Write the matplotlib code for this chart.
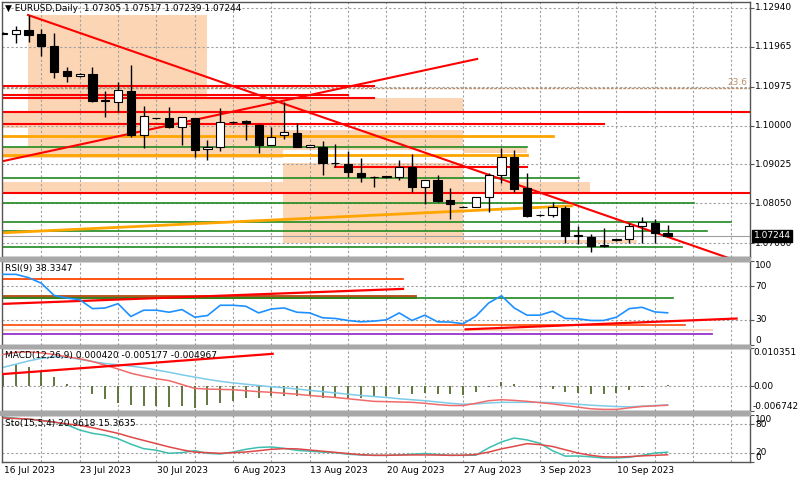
import matplotlib
matplotlib.use("Agg")
import matplotlib.pyplot as plt
from matplotlib.patches import Rectangle
from matplotlib.transforms import blended_transform_factory

plt.rcParams['font.family'] = ['DejaVu Sans']
FS = 6.5

# EURUSD daily, 16 Jul - 14 Sep 2023 (broker shows Sunday bars)
opens = [1.1230, 1.1229, 1.1239, 1.1229, 1.1199, 1.1136, 1.1123, 1.1129, 1.1062, 1.1060,
         1.1087, 1.0977, 1.1018, 1.1018, 1.0997, 1.1018, 1.0940, 1.0947, 1.1008, 1.1012,
         1.1002, 1.0951, 1.0977, 1.0982, 1.0947, 1.0945, 1.0906, 1.0903, 1.0882, 1.0871,
         1.0871, 1.0872, 1.0897, 1.0847, 1.0864, 1.0814, 1.0796, 1.0797, 1.0820, 1.0877,
         1.0922, 1.0844, 1.0776, 1.0776, 1.0794, 1.0724, 1.0721, 1.0698, 1.0713, 1.0716,
         1.0749, 1.0757, 1.07305]
highs = [1.1234, 1.1249, 1.1277, 1.1242, 1.1231, 1.1147, 1.1131, 1.1147, 1.1087, 1.1110,
         1.1151, 1.1049, 1.1020, 1.1046, 1.1021, 1.1020, 1.0964, 1.1043, 1.1012, 1.1014,
         1.1004, 1.0997, 1.1060, 1.1006, 1.0951, 1.0960, 1.0954, 1.0936, 1.0919, 1.0873,
         1.0874, 1.0914, 1.0929, 1.0864, 1.0877, 1.0844, 1.0798, 1.0822, 1.0881, 1.0944,
         1.0939, 1.0880, 1.0779, 1.0809, 1.0799, 1.0749, 1.0729, 1.0744, 1.0717, 1.0757,
         1.0771, 1.0767, 1.07517]
lows = [1.1229, 1.1207, 1.1209, 1.1174, 1.1118, 1.1110, 1.1122, 1.1060, 1.1021, 1.1035,
        1.0972, 1.0943, 1.1016, 1.0993, 1.0951, 1.0922, 1.0914, 1.0935, 1.1005, 1.0964,
        1.0931, 1.0950, 1.0967, 1.0946, 1.0946, 1.0876, 1.0895, 1.0872, 1.0859, 1.0847,
        1.0869, 1.0864, 1.0834, 1.0804, 1.0809, 1.0766, 1.0795, 1.0795, 1.0784, 1.0857,
        1.0834, 1.0771, 1.0774, 1.0772, 1.0706, 1.0704, 1.0684, 1.0697, 1.0712, 1.0706,
        1.0706, 1.0706, 1.07239]
closes = [1.1232, 1.1239, 1.1227, 1.1199, 1.1135, 1.1125, 1.1129, 1.1062, 1.1063, 1.1089,
          1.0977, 1.1024, 1.1019, 1.0997, 1.1021, 1.0939, 1.0947, 1.1008, 1.1010, 1.1006,
          1.0951, 1.0972, 1.0983, 1.0947, 1.0950, 1.0906, 1.0907, 1.0883, 1.0871, 1.0872,
          1.0873, 1.0897, 1.0847, 1.0864, 1.0812, 1.0804, 1.0797, 1.0821, 1.0877, 1.0922,
          1.0842, 1.0774, 1.0777, 1.0797, 1.0724, 1.0725, 1.0699, 1.0700, 1.0715, 1.0749,
          1.0759, 1.0731, 1.07244]

rsi = [84.1, 84.1, 80.2, 73.5, 59.0, 55.9, 53.9, 43.3, 44.1, 49.2,
       33.9, 41.4, 41.4, 39.0, 42.2, 33.1, 35.1, 47.3, 47.3, 46.1,
       38.2, 42.9, 44.1, 39.0, 38.2, 32.4, 31.6, 29.2, 27.6, 28.4,
       30.0, 38.2, 29.2, 35.5, 27.6, 27.3, 25.3, 34.3, 50.0, 58.6,
       44.1, 35.5, 35.5, 40.2, 31.6, 31.2, 29.2, 29.2, 33.1, 43.3,
       44.9, 39.4, 38.3]

macd_hist = [0.0029, 0.0060, 0.0053, 0.0038, 0.0025, 0.0005, -0.0002, -0.0022, -0.0034, -0.0046,
             -0.0050, -0.0054, -0.0054, -0.0057, -0.0054, -0.0059, -0.0052, -0.0046, -0.0041, -0.0032,
             -0.0031, -0.0028, -0.0026, -0.0026, -0.0028, -0.0031, -0.0031, -0.0032, -0.0031, -0.0028,
             -0.0026, -0.0022, -0.0022, -0.0019, -0.0022, -0.0022, -0.0024, -0.0017, -0.0002, 0.0011,
             0.0007, 0.0000, -0.0001, -0.0009, -0.0015, -0.0019, -0.0022, -0.0022, -0.0019, -0.0011,
             -0.0001, 0.0000, 0.0004]
macd_blue = [0.00509, 0.00596, 0.00684, 0.00754, 0.00798, 0.00789, 0.00728, 0.00667, 0.00614, 0.00579,
             0.00544, 0.00500, 0.00439, 0.00377, 0.00307, 0.00246, 0.00184, 0.00132, 0.00088, 0.00053,
             0.00018, -0.00018, -0.00044, -0.00079, -0.00114, -0.00149, -0.00184, -0.00219, -0.00254, -0.00281,
             -0.00307, -0.00342, -0.00368, -0.00395, -0.00430, -0.00465, -0.00491, -0.00482, -0.00456, -0.00439,
             -0.00439, -0.00439, -0.00439, -0.00447, -0.00465, -0.00491, -0.00517, -0.00535, -0.00553, -0.00561,
             -0.00544, -0.00526, -0.00509]
macd_red = [0.00859, 0.00921, 0.00930, 0.00903, 0.00859, 0.00798, 0.00745, 0.00667, 0.00570, 0.00465,
            0.00351, 0.00272, 0.00202, 0.00149, 0.00044, -0.00061, -0.00079, -0.00088, -0.00096, -0.00123,
            -0.00149, -0.00167, -0.00193, -0.00219, -0.00254, -0.00281, -0.00307, -0.00342, -0.00377, -0.00412,
            -0.00421, -0.00430, -0.00439, -0.00465, -0.00500, -0.00526, -0.00526, -0.00465, -0.00395, -0.00368,
            -0.00386, -0.00412, -0.00447, -0.00482, -0.00526, -0.00570, -0.00614, -0.00631, -0.00631, -0.00588,
            -0.00553, -0.00535, -0.00517]

sto_main = [95.7, 93.0, 91.0, 88.7, 85.0, 79.0, 68.0, 61.0, 57.0, 49.6,
            38.0, 28.4, 25.0, 18.5, 20.0, 24.0, 18.5, 17.0, 21.3, 27.0,
            31.0, 32.0, 29.0, 24.8, 23.0, 21.0, 19.9, 16.5, 15.0, 14.2,
            14.2, 15.0, 16.5, 18.0, 16.0, 14.2, 14.2, 14.5, 30.0, 42.6,
            51.0, 47.0, 40.0, 24.0, 12.5, 12.8, 11.0, 8.5, 8.5, 10.0,
            14.2, 19.0, 20.96]
sto_signal = [93.6, 92.5, 91.5, 88.0, 85.0, 81.0, 78.0, 73.0, 67.0, 61.0,
              53.0, 46.0, 39.0, 32.0, 26.0, 21.0, 19.9, 18.5, 19.9, 21.3,
              24.0, 27.0, 28.4, 28.0, 25.5, 23.0, 20.5, 18.0, 15.6, 14.2,
              14.2, 14.8, 15.0, 15.0, 14.8, 14.2, 14.5, 16.0, 21.0, 28.0,
              33.3, 39.0, 37.0, 33.0, 26.0, 19.0, 14.2, 11.0, 10.5, 11.5,
              13.0, 14.2, 15.36]

date_labels = ['16 Jul 2023', '23 Jul 2023', '30 Jul 2023', '6 Aug 2023', '13 Aug 2023',
               '20 Aug 2023', '27 Aug 2023', '3 Sep 2023', '10 Sep 2023']
date_bars = [0, 6, 12, 18, 24, 30, 36, 42, 48]

price_ticks = [1.12940, 1.11965, 1.10975, 1.10000, 1.09025, 1.08050, 1.07060]
last_price = 1.07244
fib_level = 1.10950

# drawn objects: (price, from bar, to bar)
red_levels = [(1.10990, -1, 29.0), (1.10765, -1, 27.0), (1.10690, -1, 29.0), (1.10340, -1, 60),
              (1.10035, -1, 47.0), (1.08957, 26.0, 41.0), (1.08322, -1, 60)]
orange_levels = [(1.09740, -1, 43.0), (1.09257, -1, 41.0)]
green_levels = [(1.09465, -1, 41.0), (1.08690, -1, 45.1), (1.08065, -1, 54.1),
                (1.07590, -1, 57.0), (1.07372, -1, 55.1), (1.06972, -1, 53.1)]
# trend lines: (bar0, price0, bar1, price1)
down_trend = (1.96, 1.12765, 56.5, 1.06715)
up_trend = (-1, 1.09040, 37.1, 1.11665)
orange_trend = (-1, 1.07300, 44.5, 1.07990)
# zones: (bar0, bar1, low, high)
zones = [(1.96, 15.96, 1.09315, 1.12765), (-1, 1.96, 1.09940, 1.10340), (-1, 21.9, 1.09190, 1.09465),
         (15.96, 21.9, 1.09340, 1.10690), (21.9, 36.0, 1.10315, 1.10690), (21.9, 36.0, 1.09390, 1.09890),
         (21.9, 36.0, 1.07065, 1.09065), (36.0, 41.0, 1.09315, 1.09465), (-1, 45.9, 1.08340, 1.08590),
         (36.0, 49.6, 1.07065, 1.07140)]

# RSI window objects: (value, from bar, to bar) and (bar0, v0, bar1, v1)
rsi_levels = [(78.6, -1, 31.3, '#ff4500', 1.3), (57.1, -1, 32.2, '#b5541c', 2.8), (55.9, -1, 52.4, '#1f8a1f', 1.2),
              (23.7, -1, 53.4, '#ff4500', 1.2), (17.4, -1, 55.5, '#f9d3bd', 1.5), (12.7, -1, 55.5, '#9932cc', 1.3)]
rsi_trends = [(-1, 48.4, 31.3, 66.8), (36.2, 18.6, 57.4, 31.5)]
macd_trend = (-1, 0.00302, 21.1, 0.00877)

W, H = 800, 480
fig = plt.figure(figsize=(8, 4.8), dpi=100)
fig.patch.set_facecolor('white')


def box(top, bottom):
    return [2 / W, 1 - bottom / H, 748 / W, (bottom - top) / H]


ax = fig.add_axes(box(2, 257))
ax_rsi = fig.add_axes(box(261, 345))
ax_macd = fig.add_axes(box(348, 411))
ax_sto = fig.add_axes(box(415, 462))

xmin, xmax = -0.08, 58.45
grid_col = '#a0a0a0'
dot = (0, (2, 2))
for a in (ax, ax_rsi, ax_macd, ax_sto):
    a.set_xlim(xmin, xmax)
    a.set_xticks([])
    for k in range(3, 58, 3):
        a.axvline(k, color=grid_col, lw=0.8, ls=dot, zorder=0.8)
    for s in a.spines.values():
        s.set_color('#555555')
        s.set_linewidth(1.0)
    a.yaxis.tick_right()
    a.tick_params(axis='y', length=3, width=0.8, colors='#555555', labelright=False)

# separators
for top, bottom in [(257, 261), (345, 348), (411, 415)]:
    fig.add_artist(Rectangle((0, 1 - bottom / H), 750 / W, (bottom - top) / H,
                             transform=fig.transFigure, color='#a8a8a8', zorder=5))

# ---- main price window
ax.set_ylim(1.06710, 1.13090)
for p in price_ticks:
    ax.axhline(p, color=grid_col, lw=0.8, ls=dot, zorder=0.8)
ax.set_yticks(price_ticks)
tr = blended_transform_factory(ax.transAxes, ax.transData)
for p in price_ticks:
    ax.text(1.007, p, f'{p:.5f}', transform=tr, fontsize=FS, va='center', ha='left', color='black')

for b0, b1, lo, hi in zones:
    ax.add_patch(Rectangle((b0, lo), b1 - b0, hi - lo, facecolor='#fcd5b4', edgecolor='none', zorder=0.5))

ax.axhline(fib_level, color='#b9916d', lw=1.0, ls=(0, (2, 1)), zorder=1.2)
ax.text(xmax - 0.2, fib_level + 0.0002, '23.6', fontsize=FS, color='#b9916d', ha='right', va='bottom')
for p, b0, b1 in red_levels:
    ax.plot([b0, b1], [p, p], color='#ff0000', lw=1.5, zorder=1.5)
for p, b0, b1 in orange_levels:
    ax.plot([b0, b1], [p, p], color='#ffa500', lw=2.0, zorder=1.5)
for p, b0, b1 in green_levels:
    ax.plot([b0, b1], [p, p], color='#1f8a1f', lw=1.2, zorder=1.5)
ax.axhline(last_price, color='#a0a0a0', lw=0.8, zorder=1.4)

b0, p0, b1, p1 = down_trend
slope = (p1 - p0) / (b1 - b0)
ax.plot([b0, 60], [p0, p0 + slope * (60 - b0)], color='#ff0000', lw=1.5, zorder=2)
b0, p0, b1, p1 = up_trend
ax.plot([b0, b1], [p0, p1], color='#ff0000', lw=1.5, zorder=2)
b0, p0, b1, p1 = orange_trend
ax.plot([b0, b1], [p0, p1], color='#ffa500', lw=2.0, zorder=2)

idx = list(range(len(opens)))
ax.vlines(idx, lows, highs, color='black', lw=1.0, zorder=2.9)
bottoms = [min(o, c) for o, c in zip(opens, closes)]
heights = [max(abs(c - o), 0.00003) for o, c in zip(opens, closes)]
colors = ['white' if c >= o else 'black' for o, c in zip(opens, closes)]
ax.bar(idx, heights, bottom=bottoms, width=0.64, color=colors, edgecolor='black', linewidth=0.8, zorder=3)

ax.text(1.005, last_price, f'{last_price:.5f}', transform=tr, fontsize=FS, va='center', ha='left',
        color='white', bbox=dict(boxstyle='square,pad=0.15', fc='black', ec='black'), zorder=6)
fig.text(5 / W, 1 - 4 / H, '\u25bc EURUSD,Daily  1.07305 1.07517 1.07239 1.07244', fontsize=FS, va='top', ha='left')

# ---- RSI
ax_rsi.set_ylim(0, 100)
ax_rsi.set_yticks([100, 70, 30, 0])
for lv in (70, 30):
    ax_rsi.axhline(lv, color=grid_col, lw=0.8, ls=dot, zorder=0.8)
for v, b0, b1, col, lw in rsi_levels:
    ax_rsi.plot([b0, b1], [v, v], color=col, lw=lw, zorder=1.5)
for b0, v0, b1, v1 in rsi_trends:
    ax_rsi.plot([b0, b1], [v0, v1], color='#ff0000', lw=1.6, zorder=1.6)
ax_rsi.plot(idx, rsi, color='#1e90ff', lw=1.2, zorder=3)
tr = blended_transform_factory(ax_rsi.transAxes, ax_rsi.transData)
for v, va in [(100, 'top'), (70, 'center'), (30, 'center'), (0, 'bottom')]:
    ax_rsi.text(1.007, v, str(v), transform=tr, fontsize=FS, va=va, ha='left')
fig.text(5 / W, 1 - 264 / H, 'RSI(9) 38.3347', fontsize=FS, va='top', ha='left')

# ---- MACD
ax_macd.set_ylim(-0.006742, 0.010351)
ax_macd.set_yticks([0.010351, 0.0, -0.006742])
ax_macd.axhline(0, color=grid_col, lw=0.8, ls=dot, zorder=0.8)
ax_macd.vlines(idx, 0, macd_hist, color='#556b2f', lw=1.3, zorder=2)
ax_macd.plot(idx, macd_blue, color='#7ccbe8', lw=1.1, zorder=2.5)
ax_macd.plot(idx, macd_red, color='#f06a6a', lw=1.1, zorder=2.6)
b0, v0, b1, v1 = macd_trend
ax_macd.plot([b0, b1], [v0, v1], color='#ff0000', lw=1.6, zorder=3)
tr = blended_transform_factory(ax_macd.transAxes, ax_macd.transData)
for v, s, va in [(0.010351, '0.010351', 'top'), (0.0, '0.00', 'center'), (-0.006742, '-0.006742', 'bottom')]:
    ax_macd.text(1.004, v, s, transform=tr, fontsize=FS, va=va, ha='left')
fig.text(5 / W, 1 - 351 / H, 'MACD(12,26,9) 0.000420 -0.005177 -0.004967', fontsize=FS, va='top', ha='left')

# ---- Stochastic
ax_sto.set_ylim(0, 100)
ax_sto.set_yticks([100, 80, 20, 0])
for lv in (80, 20):
    ax_sto.axhline(lv, color=grid_col, lw=0.8, ls=dot, zorder=0.8)
ax_sto.plot(idx, sto_main, color='#3cbfb0', lw=1.1, zorder=2.5)
ax_sto.plot(idx, sto_signal, color='#e04848', lw=1.1, zorder=2.6)
tr = blended_transform_factory(ax_sto.transAxes, ax_sto.transData)
for v, va in [(100, 'top'), (80, 'center'), (20, 'center'), (0, 'bottom')]:
    ax_sto.text(1.007, v, str(v), transform=tr, fontsize=FS, va=va, ha='left')
fig.text(5 / W, 1 - 419 / H, 'Sto(15,5,4) 20.9618 15.3635', fontsize=FS, va='top', ha='left')

trx = blended_transform_factory(ax_sto.transData, ax_sto.transAxes)
for k, lab in zip(date_bars, date_labels):
    ax_sto.text(k + 0.05, -0.08, lab, transform=trx, fontsize=FS, va='top', ha='left', clip_on=False)

fig.savefig('out.png', dpi=100)
